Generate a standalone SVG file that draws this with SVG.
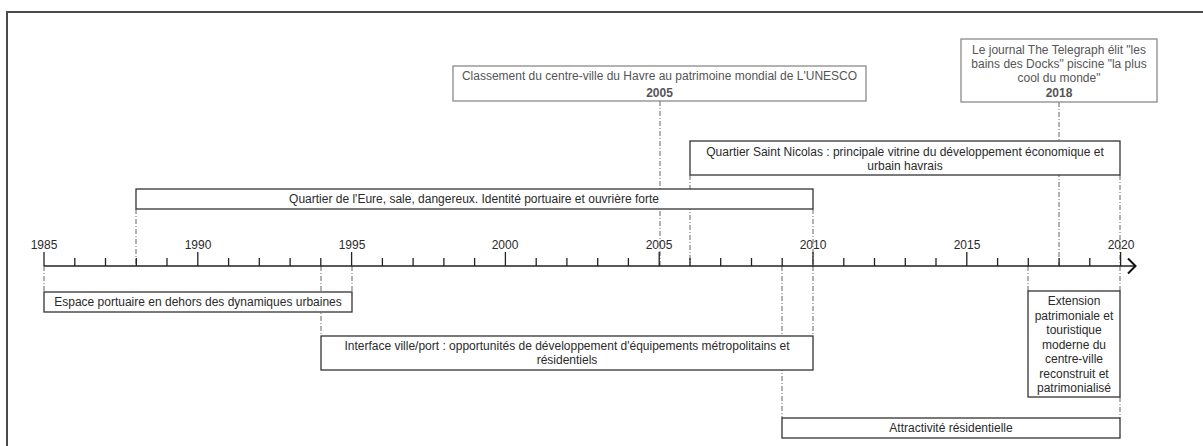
<svg xmlns="http://www.w3.org/2000/svg" width="1203" height="446" viewBox="0 0 1203 446">
<style>
text{font-family:"Liberation Sans",Arial,sans-serif;font-size:12px;fill:#2a2a2a;text-anchor:middle}
.ev text{fill:#555}
.yr{font-weight:bold;fill:#333}
.box{fill:#fff;stroke:#333;stroke-width:1.3}
.evbox{fill:#fff;stroke:#8a8a8a;stroke-width:1.3}
.dl{stroke:#666;stroke-width:1;stroke-dasharray:5,2,1,2;fill:none}
.tick{stroke:#222;stroke-width:1.3}
</style>
<rect x="7" y="12" width="1210" height="450" fill="#fff" stroke="#4a4a4a" stroke-width="2"/>
<g id="connectors">
<line class="dl" x1="660" y1="101" x2="660" y2="266"/>
<line class="dl" x1="1059" y1="102" x2="1059" y2="266"/>
<line class="dl" x1="690" y1="175" x2="690" y2="266"/>
<line class="dl" x1="1120" y1="175" x2="1120" y2="266"/>
<line class="dl" x1="136" y1="209" x2="136" y2="266"/>
<line class="dl" x1="813" y1="209" x2="813" y2="266"/>
<line class="dl" x1="44" y1="266" x2="44" y2="292"/>
<line class="dl" x1="352" y1="266" x2="352" y2="292"/>
<line class="dl" x1="321" y1="266" x2="321" y2="336"/>
<line class="dl" x1="813" y1="266" x2="813" y2="336"/>
<line class="dl" x1="782" y1="266" x2="782" y2="418"/>
<line class="dl" x1="1028" y1="266" x2="1028" y2="291"/>
<line class="dl" x1="1120" y1="266" x2="1120" y2="291"/>
<line class="dl" x1="1120" y1="397" x2="1120" y2="418"/>
</g>
<g id="axis">
<line x1="44" y1="266" x2="1135" y2="266" stroke="#222" stroke-width="1.5"/>
<polyline points="1128,258.5 1135.5,266 1128,273.5" fill="none" stroke="#111" stroke-width="2"/>
<g class="tick">
<line x1="44" y1="252" x2="44" y2="266"/>
<line x1="74.8" y1="258" x2="74.8" y2="266"/>
<line x1="105.5" y1="258" x2="105.5" y2="266"/>
<line x1="136.3" y1="258" x2="136.3" y2="266"/>
<line x1="167" y1="258" x2="167" y2="266"/>
<line x1="197.8" y1="252" x2="197.8" y2="266"/>
<line x1="228.6" y1="258" x2="228.6" y2="266"/>
<line x1="259.3" y1="258" x2="259.3" y2="266"/>
<line x1="290.1" y1="258" x2="290.1" y2="266"/>
<line x1="320.8" y1="258" x2="320.8" y2="266"/>
<line x1="351.6" y1="252" x2="351.6" y2="266"/>
<line x1="382.4" y1="258" x2="382.4" y2="266"/>
<line x1="413.1" y1="258" x2="413.1" y2="266"/>
<line x1="443.9" y1="258" x2="443.9" y2="266"/>
<line x1="474.6" y1="258" x2="474.6" y2="266"/>
<line x1="505.4" y1="252" x2="505.4" y2="266"/>
<line x1="536.2" y1="258" x2="536.2" y2="266"/>
<line x1="566.9" y1="258" x2="566.9" y2="266"/>
<line x1="597.7" y1="258" x2="597.7" y2="266"/>
<line x1="628.4" y1="258" x2="628.4" y2="266"/>
<line x1="659.2" y1="252" x2="659.2" y2="266"/>
<line x1="690" y1="258" x2="690" y2="266"/>
<line x1="720.7" y1="258" x2="720.7" y2="266"/>
<line x1="751.5" y1="258" x2="751.5" y2="266"/>
<line x1="782.2" y1="258" x2="782.2" y2="266"/>
<line x1="813" y1="252" x2="813" y2="266"/>
<line x1="843.8" y1="258" x2="843.8" y2="266"/>
<line x1="874.5" y1="258" x2="874.5" y2="266"/>
<line x1="905.3" y1="258" x2="905.3" y2="266"/>
<line x1="936" y1="258" x2="936" y2="266"/>
<line x1="966.8" y1="252" x2="966.8" y2="266"/>
<line x1="997.6" y1="258" x2="997.6" y2="266"/>
<line x1="1028.3" y1="258" x2="1028.3" y2="266"/>
<line x1="1059.1" y1="258" x2="1059.1" y2="266"/>
<line x1="1089.8" y1="258" x2="1089.8" y2="266"/>
<line x1="1120.6" y1="252" x2="1120.6" y2="266"/>
</g>
<text x="44" y="249">1985</text>
<text x="198" y="249">1990</text>
<text x="352" y="249">1995</text>
<text x="505" y="249">2000</text>
<text x="659" y="249">2005</text>
<text x="813" y="249">2010</text>
<text x="967" y="249">2015</text>
<text x="1121" y="249">2020</text>
</g>
<g id="ev2005" class="ev">
<rect class="evbox" x="453" y="66" width="413" height="35"/>
<text x="659.5" y="80">Classement du centre-ville du Havre au patrimoine mondial de L'UNESCO</text>
<text class="yr" x="659.5" y="97">2005</text>
</g>
<g id="ev2018" class="ev">
<rect class="evbox" x="961" y="39" width="196" height="63"/>
<text x="1059" y="54">Le journal The Telegraph élit "les</text>
<text x="1059" y="68">bains des Docks" piscine "la plus</text>
<text x="1059" y="82">cool du monde"</text>
<text class="yr" x="1059" y="97">2018</text>
</g>
<g id="stnicolas">
<rect class="box" x="690" y="141" width="430" height="34"/>
<text x="905" y="156">Quartier Saint Nicolas : principale vitrine du développement économique et</text>
<text x="905" y="170">urbain havrais</text>
</g>
<g id="eure">
<rect class="box" x="136" y="189" width="677" height="20"/>
<text x="474" y="203">Quartier de l'Eure, sale, dangereux. Identité portuaire et ouvrière forte</text>
</g>
<g id="espace">
<rect class="box" x="44" y="292" width="308" height="20"/>
<text x="198" y="306">Espace portuaire en dehors des dynamiques urbaines</text>
</g>
<g id="interface">
<rect class="box" x="321" y="336" width="492" height="34"/>
<text x="567" y="350">Interface ville/port : opportunités de développement d'équipements métropolitains et</text>
<text x="567" y="364">résidentiels</text>
</g>
<g id="extension">
<rect class="box" x="1028" y="291" width="92" height="106"/>
<text x="1074" y="305">Extension</text>
<text x="1074" y="319.5">patrimoniale et</text>
<text x="1074" y="334">touristique</text>
<text x="1074" y="348.5">moderne du</text>
<text x="1074" y="363">centre-ville</text>
<text x="1074" y="377.5">reconstruit et</text>
<text x="1074" y="392">patrimonialisé</text>
</g>
<g id="attractivite">
<rect class="box" x="782" y="418" width="338" height="20"/>
<text x="951" y="432">Attractivité résidentielle</text>
</g>
</svg>
